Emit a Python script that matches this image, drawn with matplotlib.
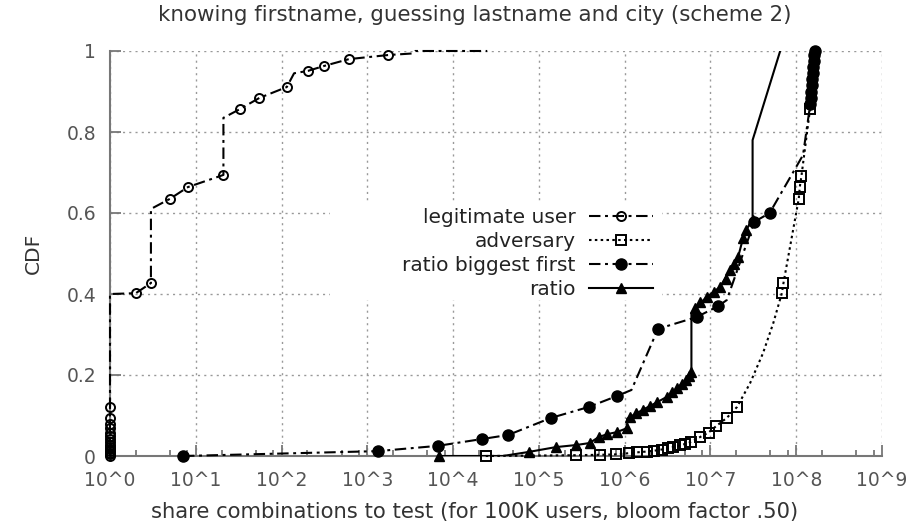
import matplotlib
matplotlib.use("Agg")
import matplotlib.pyplot as plt
from matplotlib.lines import Line2D
from matplotlib.patches import Rectangle
from matplotlib.ticker import LogLocator, FixedLocator, NullFormatter

# ---------------- data ----------------
title = "knowing firstname, guessing lastname and city (scheme 2)"
xlabel = "share combinations to test (for 100K users, bloom factor .50)"
ylabel = "CDF"
x_ticks = [1e0, 1e1, 1e2, 1e3, 1e4, 1e5, 1e6, 1e7, 1e8, 1e9]
x_tick_labels = ["10^0", "10^1", "10^2", "10^3", "10^4", "10^5", "10^6", "10^7", "10^8", "10^9"]
y_ticks = [0, 0.2, 0.4, 0.6, 0.8, 1.0]
y_tick_labels = ["0", "0.2", "0.4", "0.6", "0.8", "1"]
labels = ["legitimate user", "adversary", "ratio biggest first", "ratio"]

# legitimate user: line vertices and marked points
legit_line_x = [1, 1, 1, 2.0, 3.0, 3.0, 5.0, 8.1, 21, 21, 33, 55, 115, 140, 204, 312, 611, 1740, 3400, 3600, 25000]
legit_line_y = [0, 0.12, 0.40, 0.402, 0.427, 0.61, 0.635, 0.664, 0.694, 0.835, 0.857, 0.884, 0.911, 0.945, 0.951, 0.963, 0.980, 0.990, 0.994, 1.0, 1.0]
legit_mark_x = [1, 1, 1, 1, 1, 1, 1, 1, 1, 1, 1, 1, 1, 1, 1,
                2.0, 3.0, 5.0, 8.1, 21, 33, 55, 115, 204, 312, 611, 1740]
legit_mark_y = [0, 0.004, 0.008, 0.012, 0.017, 0.022, 0.028, 0.034, 0.041, 0.049, 0.058, 0.068, 0.080, 0.095, 0.121,
                0.402, 0.427, 0.635, 0.664, 0.694, 0.857, 0.884, 0.911, 0.951, 0.963, 0.980, 0.990]

# adversary
adv_line_x = [2.4e4, 2.7e5, 5.1e5, 7.9e5, 1.12e6, 1.4e6, 1.8e6, 2.2e6, 2.7e6, 3.2e6, 3.7e6, 4.4e6, 5.1e6, 6.0e6,
              7.6e6, 9.5e6, 1.17e7, 1.55e7, 2.04e7, 2.9e7, 4.1e7, 5.4e7, 6.8e7, 7.1e7, 1.07e8, 1.10e8, 1.15e8,
              1.45e8, 1.5e8, 1.55e8, 1.6e8, 1.64e8]
adv_line_y = [0.0, 0.002, 0.003, 0.004, 0.007, 0.009, 0.011, 0.013, 0.016, 0.019, 0.022, 0.026, 0.030, 0.035,
              0.047, 0.058, 0.074, 0.094, 0.121, 0.180, 0.254, 0.328, 0.402, 0.427, 0.635, 0.664, 0.691,
              0.857, 0.89, 0.93, 0.97, 1.0]
adv_mark_x = [2.4e4, 2.7e5, 5.1e5, 7.9e5, 1.12e6, 1.4e6, 1.8e6, 2.2e6, 2.7e6, 3.2e6, 3.7e6, 4.4e6, 5.1e6, 6.0e6,
              7.6e6, 9.5e6, 1.17e7, 1.55e7, 2.04e7, 6.8e7, 7.1e7, 1.07e8, 1.10e8, 1.15e8, 1.45e8]
adv_mark_y = [0.0, 0.002, 0.003, 0.004, 0.007, 0.009, 0.011, 0.013, 0.016, 0.019, 0.022, 0.026, 0.030, 0.035,
              0.047, 0.058, 0.074, 0.094, 0.121, 0.402, 0.427, 0.635, 0.664, 0.691, 0.857]

# ratio biggest first
rbf_line_x = [7.1, 1320, 6600, 2.19e4, 4.4e4, 1.38e5, 3.8e5, 8.1e5, 1.2e6, 2.45e6, 6.9e6, 1.23e7, 1.55e7,
              3.24e7, 4.9e7, 1.2e8, 1.46e8, 1.48e8, 1.5e8, 1.52e8, 1.54e8, 1.56e8, 1.58e8, 1.6e8, 1.62e8, 1.64e8]
rbf_line_y = [0.0, 0.012, 0.025, 0.042, 0.052, 0.094, 0.121, 0.148, 0.163, 0.314, 0.343, 0.370, 0.385,
              0.578, 0.600, 0.743, 0.87, 0.885, 0.90, 0.915, 0.93, 0.945, 0.96, 0.975, 0.99, 1.0]
rbf_mark_x = [7.1, 1320, 6600, 2.19e4, 4.4e4, 1.38e5, 3.8e5, 8.1e5, 2.45e6, 6.9e6, 1.23e7,
              3.24e7, 4.9e7, 1.46e8, 1.48e8, 1.5e8, 1.52e8, 1.54e8, 1.56e8, 1.58e8, 1.6e8, 1.62e8, 1.64e8]
rbf_mark_y = [0.0, 0.012, 0.025, 0.042, 0.052, 0.094, 0.121, 0.148, 0.314, 0.343, 0.370,
              0.578, 0.600, 0.87, 0.885, 0.90, 0.915, 0.93, 0.945, 0.96, 0.975, 0.99, 1.0]

# ratio
ratio_line_x = [6900, 3.8e4, 7.6e4, 1.58e5, 2.7e5, 3.9e5, 5.0e5, 6.3e5, 8.1e5, 1.07e6, 1.07e6, 1.15e6, 1.62e6,
                2.4e6, 3.1e6, 4.1e6, 5.2e6, 6.0e6, 6.0e6, 6.6e6, 9.1e6, 1.29e7, 1.7e7, 2.1e7, 2.4e7, 2.6e7,
                3.1e7, 3.1e7, 6.5e7]
ratio_line_y = [0.0, 0.0, 0.010, 0.022, 0.027, 0.032, 0.047, 0.054, 0.059, 0.069, 0.092, 0.096, 0.114,
                0.133, 0.146, 0.168, 0.188, 0.207, 0.353, 0.365, 0.393, 0.417, 0.459, 0.491, 0.538, 0.558,
                0.583, 0.78, 1.0]
ratio_mark_x = [6900, 7.6e4, 1.58e5, 2.7e5, 3.9e5, 5.0e5, 6.3e5, 8.1e5, 1.07e6, 1.15e6, 1.35e6, 1.62e6,
                2.0e6, 2.4e6, 3.1e6, 3.6e6, 4.1e6, 4.6e6, 5.2e6, 5.6e6, 6.0e6, 6.6e6, 7.6e6, 9.1e6, 1.1e7,
                1.29e7, 1.5e7, 1.7e7, 1.9e7, 2.1e7, 2.4e7, 2.6e7, 3.1e7]
ratio_mark_y = [0.0, 0.010, 0.022, 0.027, 0.032, 0.047, 0.054, 0.059, 0.069, 0.096, 0.105, 0.114,
                0.124, 0.133, 0.146, 0.157, 0.168, 0.178, 0.188, 0.197, 0.207, 0.365, 0.380, 0.393, 0.405,
                0.417, 0.438, 0.459, 0.475, 0.491, 0.538, 0.558, 0.583]

# ---------------- figure ----------------
W, H = 914, 531
fig = plt.figure(figsize=(W / 100, H / 100), dpi=100)
L, R, B, T = 110, 882, 456, 51
ax = fig.add_axes([L / W, 1 - B / H, (R - L) / W, (B - T) / H])

gray = "#777777"
txt = "#555555"
FS = 13.5

ax.set_xscale("log")
ax.set_xlim(1, 1e9)
ax.set_ylim(0, 1)

lw = 1.5
dashdot = (5.5, 2.2, 1.4, 2.2)
dotted = (1.2, 1.6)

ax.plot(legit_line_x, legit_line_y, color="black", lw=lw, dashes=dashdot, zorder=3, clip_on=False)
ax.plot(legit_mark_x, legit_mark_y, ls="none", marker="o", ms=6.5, mfc="none", mec="black", mew=1.4,
        zorder=4, clip_on=False)

ax.plot(adv_line_x, adv_line_y, color="black", lw=lw, dashes=dotted, zorder=3, clip_on=False)
ax.plot(adv_mark_x, adv_mark_y, ls="none", marker="s", ms=6.5, mfc="none", mec="black", mew=1.4,
        zorder=4, clip_on=False)

ax.plot(rbf_line_x, rbf_line_y, color="black", lw=lw, dashes=dashdot, zorder=3, clip_on=False)
ax.plot(rbf_mark_x, rbf_mark_y, ls="none", marker="o", ms=8, mfc="black", mec="black", zorder=4, clip_on=False)

ax.plot(ratio_line_x, ratio_line_y, color="black", lw=lw, ls="-", zorder=3)
ax.plot(ratio_mark_x, ratio_mark_y, ls="none", marker="^", ms=6.5, mfc="black", mec="black", zorder=4,
        clip_on=False)

# grid
ax.set_axisbelow(True)
ax.grid(True, which="major", color="#999999", lw=1.0, dashes=(1.5, 3))
ax.add_patch(Rectangle((0.285, 0.385), 0.43, 0.24, transform=ax.transAxes,
                       facecolor="white", edgecolor="none", zorder=1))

# spines / ticks
for s in ["top", "right"]:
    ax.spines[s].set_visible(False)
for s in ["left", "bottom"]:
    ax.spines[s].set_color(gray)
    ax.spines[s].set_linewidth(1.5)

ax.xaxis.set_major_locator(FixedLocator(x_ticks))
ax.set_xticklabels(x_tick_labels)
ax.xaxis.set_minor_locator(LogLocator(base=10, subs=(2, 5, 8), numticks=20))
ax.xaxis.set_minor_formatter(NullFormatter())
ax.set_yticks(y_ticks)
ax.set_yticklabels(y_tick_labels)
ax.tick_params(axis="both", which="major", direction="in", length=8, width=1.3, color=gray,
               labelsize=FS, labelcolor=txt)
ax.tick_params(axis="x", which="major", pad=11)
ax.tick_params(axis="x", which="minor", direction="in", length=4.5, width=1.3, color=gray)
ax.tick_params(axis="y", which="major", pad=10)

# labels
fig.text(475 / W, 1 - 15 / H, title, ha="center", va="center", fontsize=15.4, color="#333333")
fig.text(475 / W, 1 - 512 / H, xlabel, ha="center", va="center", fontsize=15.2, color="#333333")
fig.text(33 / W, 1 - 253 / H, ylabel, ha="center", va="center", fontsize=14.5, color="#333333", rotation=90)

# legend
handles = [
    Line2D([], [], color="black", lw=lw, dashes=dashdot, marker="o", ms=6.5, mfc="none", mec="black", mew=1.4),
    Line2D([], [], color="black", lw=lw, dashes=dotted, marker="s", ms=6.5, mfc="none", mec="black", mew=1.4),
    Line2D([], [], color="black", lw=lw, dashes=dashdot, marker="o", ms=8, mfc="black", mec="black"),
    Line2D([], [], color="black", lw=lw, ls="-", marker="^", ms=6.5, mfc="black", mec="black"),
]
leg = ax.legend(handles, labels, loc="center right", bbox_to_anchor=(653 / W, 1 - 253.5 / H),
                bbox_transform=fig.transFigure, frameon=False, markerfirst=False, fontsize=14.5,
                handlelength=3.2, handletextpad=0.65, labelspacing=0.25, borderpad=0, borderaxespad=0)
for t in leg.get_texts():
    t.set_color("#222222")

fig.savefig("out.png", dpi=100)
